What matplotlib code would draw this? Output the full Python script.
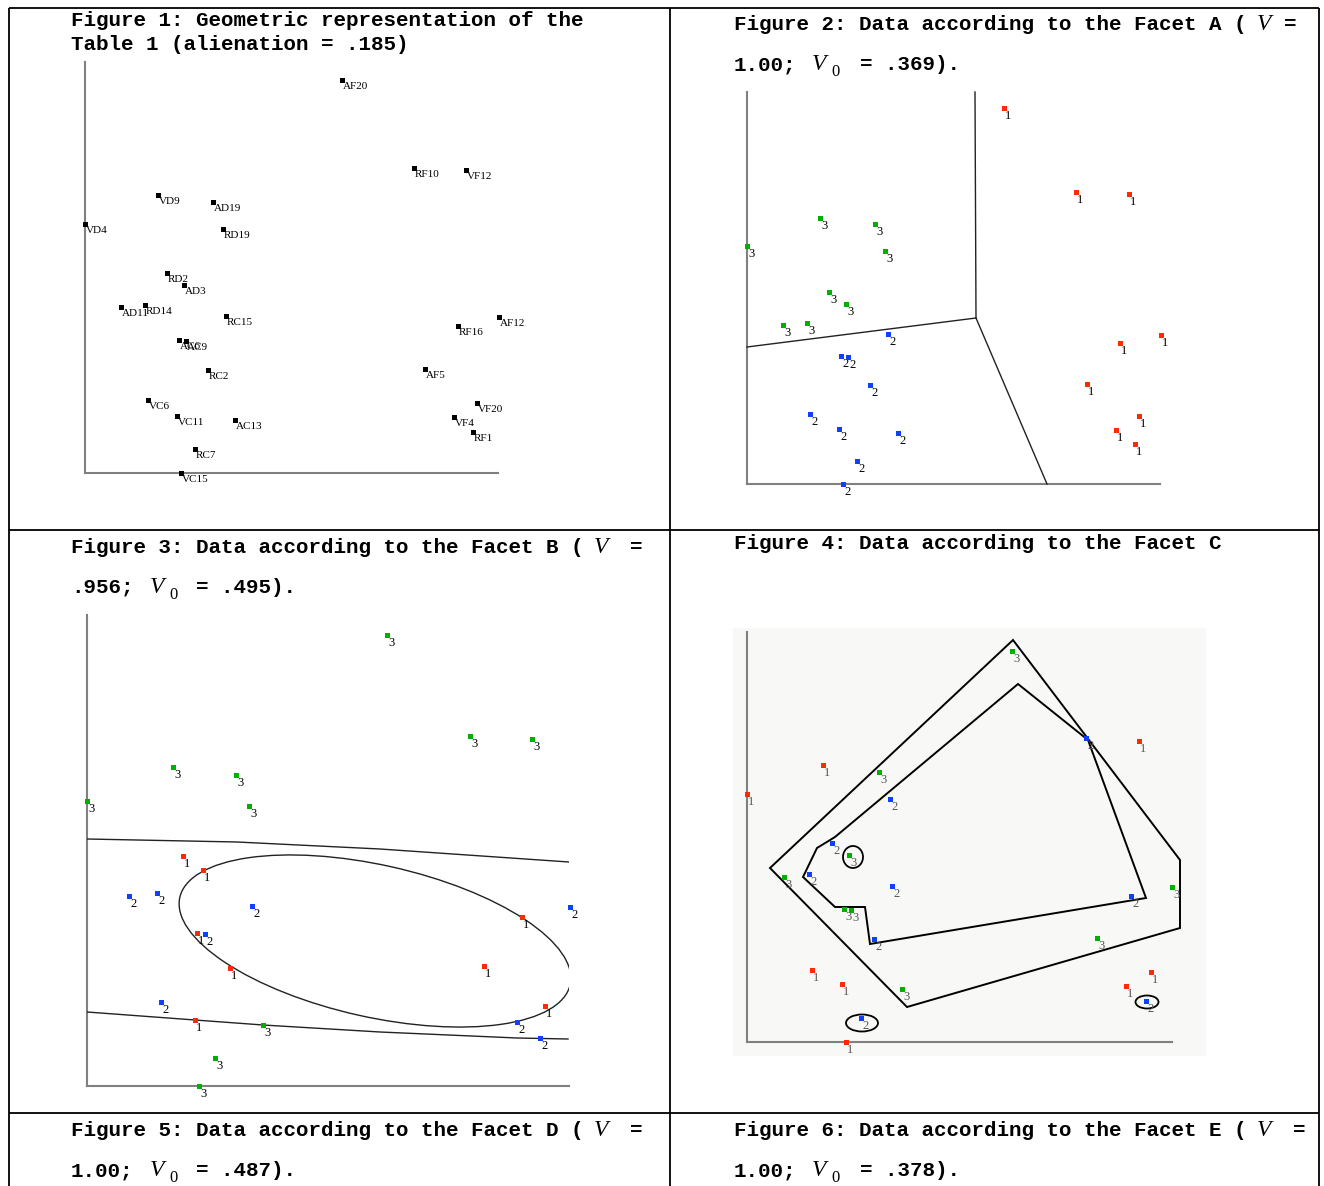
import matplotlib
matplotlib.use('Agg')
import matplotlib.pyplot as plt
from matplotlib.patches import Ellipse, Polygon, Rectangle

W, H = 1324, 1186

# Figure 1: SSA map with item labels (x to the right, y upward from the axis corner)
fig1_labels = ['AF20', 'RF10', 'VF12', 'VD9', 'AD19', 'VD4', 'RD19', 'RD2', 'AD3',
               'AD11', 'RD14', 'RC15', 'AF12', 'RF16', 'AC6', 'AC9', 'RC2', 'AF5',
               'VC6', 'VF20', 'VC11', 'VF4', 'AC13', 'RF1', 'RC7', 'VC15']
fig1_x = [257, 329, 381, 73, 128, 0, 138, 82, 99, 36, 60, 141, 414, 373, 94, 101,
          123, 340, 63, 392, 92, 369, 150, 388, 110, 96]
fig1_y = [393, 305, 303, 278, 271, 249, 244, 200, 188, 166, 168, 157, 156, 147, 133,
          132, 103, 104, 73, 70, 57, 56, 53, 41, 24, 0]

# Figure 2: Facet A
fig2_red_x = [257, 329, 382, 373, 414, 340, 392, 369, 388]
fig2_red_y = [376, 292, 290, 141, 149, 100, 68, 54, 40]
fig2_blue_x = [141, 94, 101, 123, 63, 92, 151, 110, 96]
fig2_blue_y = [150, 128, 127, 99, 70, 55, 51, 23, 0]
fig2_green_x = [73, 128, 0, 138, 82, 99, 36, 60]
fig2_green_y = [266, 260, 238, 233, 192, 180, 159, 161]
fig2_walls = [([228, 229], [392, 166]), ([0, 229], [137, 166]), ([229, 300], [166, 0])]

# Figure 3: Facet B
fig3_red_x = [96, 116, 435, 110, 143, 397, 458, 108]
fig3_red_y = [230, 216, 169, 153, 118, 120, 80, 66]
fig3_blue_x = [42, 70, 165, 483, 118, 74, 430, 453]
fig3_blue_y = [190, 193, 180, 179, 152, 84, 64, 48]
fig3_green_x = [300, 383, 445, 86, 149, 0, 162, 176, 128, 112]
fig3_green_y = [451, 350, 347, 319, 311, 285, 280, 61, 28, 0]
fig3_upper_x = [0, 150, 293, 482]
fig3_upper_y = [247, 244, 237, 224]
fig3_lower_x = [0, 108, 176, 293, 430, 481]
fig3_lower_y = [74, 66, 61, 54, 48, 47]
fig3_ellipse = dict(xy=(288, 145), width=400, height=152, angle=-12.6)

# Figure 4: Facet C
fig4_red_x = [392, 76, 0, 65, 404, 95, 379, 99]
fig4_red_y = [301, 277, 248, 72, 70, 58, 56, 0]
fig4_blue_x = [339, 143, 85, 62, 145, 384, 127, 399, 114]
fig4_blue_y = [304, 243, 199, 168, 156, 146, 103, 41, 24]
fig4_green_x = [265, 132, 102, 37, 425, 97, 104, 350, 155]
fig4_green_y = [391, 270, 187, 165, 155, 133, 132, 104, 53]
fig4_outer = [(266, 402), (433, 182), (433, 114), (160, 35), (23, 174)]
fig4_inner = [(271, 358), (341, 302), (399, 144), (123, 98), (118, 135), (88, 135),
              (56, 165), (70, 194), (88, 205)]
fig4_rings = [((106, 185), 20, 22), ((115, 19), 32, 17), ((400, 40), 23, 13)]

RED, BLUE, GREEN = '#ff2a00', '#1040ff', '#00b000'
MONO = dict(family='Liberation Mono', weight='bold', fontsize=15, va='baseline')

fig = plt.figure(figsize=(W / 100, H / 100), dpi=100)
page = fig.add_axes([0, 0, 1, 1])
page.set_xlim(0, W)
page.set_ylim(H, 0)
page.axis('off')

# table grid
for xs, ys in [([9, 9], [8, H]), ([1319, 1319], [8, H]), ([670, 670], [8, H]),
               ([9, 1319], [8, 8]), ([9, 1319], [530, 530]), ([9, 1319], [1113, 1113])]:
    page.plot(xs, ys, color='black', lw=1.3, solid_capstyle='butt')


def vee(x, y, sub=False):
    page.text(x, y, 'V', family='Liberation Serif', style='italic', fontsize=17, va='baseline')
    if sub:
        page.text(x + 19, y + 6, '0', family='Liberation Serif', fontsize=12, va='baseline')


page.text(71, 26, 'Figure 1: Geometric representation of the', **MONO)
page.text(71, 50, 'Table 1 (alienation = .185)', **MONO)

page.text(734, 30, 'Figure 2: Data according to the Facet A (', **MONO)
vee(1257, 30)
page.text(1284, 30, '=', **MONO)
page.text(734, 70, '1.00;', **MONO)
vee(812, 70, True)
page.text(860, 70, '= .369).', **MONO)

page.text(71, 553, 'Figure 3: Data according to the Facet B (', **MONO)
vee(594, 553)
page.text(630, 553, '=', **MONO)
page.text(71, 593, '.956;', **MONO)
vee(150, 593, True)
page.text(196, 593, '= .495).', **MONO)

page.text(734, 549, 'Figure 4: Data according to the Facet C', **MONO)

page.text(71, 1136, 'Figure 5: Data according to the Facet D (', **MONO)
vee(594, 1136)
page.text(630, 1136, '=', **MONO)
page.text(71, 1176, '1.00;', **MONO)
vee(150, 1176, True)
page.text(196, 1176, '= .487).', **MONO)

page.text(734, 1136, 'Figure 6: Data according to the Facet E (', **MONO)
vee(1257, 1136)
page.text(1293, 1136, '=', **MONO)
page.text(734, 1176, '1.00;', **MONO)
vee(812, 1176, True)
page.text(860, 1176, '= .378).', **MONO)


def panel(x0, y0, w, h):
    ax = fig.add_axes([x0 / W, 1 - y0 / H, w / W, h / H])
    ax.set_xlim(0, w)
    ax.set_ylim(0, h)
    ax.axis('off')
    ax.plot([0, 0], [0, h], color='#808080', lw=1.5, clip_on=False, zorder=2)
    ax.plot([0, w], [0, 0], color='#808080', lw=1.5, clip_on=False, zorder=2)
    return ax


def marks(ax, xs, ys, labels, color, size=9, tcolor='black'):
    ax.plot(xs, ys, 's', ls='none', ms=3.6, mew=0, color=color, clip_on=False, zorder=4)
    for x, y, t in zip(xs, ys, labels):
        ax.annotate(t, (x, y), xytext=(1, -2), textcoords='offset pixels',
                    ha='left', va='top', fontsize=size, family='Liberation Serif',
                    color=tcolor, annotation_clip=False)


# Figure 1
ax1 = panel(85, 473, 413, 411)
marks(ax1, fig1_x, fig1_y, fig1_labels, 'black', size=8)

# Figure 2
ax2 = panel(747, 484, 413, 392)
for xs, ys in fig2_walls:
    ax2.plot(xs, ys, color='#222222', lw=1.0, clip_on=False)
marks(ax2, fig2_red_x, fig2_red_y, ['1'] * len(fig2_red_x), RED)
marks(ax2, fig2_blue_x, fig2_blue_y, ['2'] * len(fig2_blue_x), BLUE)
marks(ax2, fig2_green_x, fig2_green_y, ['3'] * len(fig2_green_x), GREEN)

# Figure 3
ax3 = panel(87, 1086, 482, 471)
ax3.plot(fig3_upper_x, fig3_upper_y, color='#222222', lw=1.0)
ax3.plot(fig3_lower_x, fig3_lower_y, color='#222222', lw=1.0)
ax3.add_patch(Ellipse(fill=False, ec='#222222', lw=1.0, **fig3_ellipse))
marks(ax3, fig3_red_x, fig3_red_y, ['1'] * len(fig3_red_x), RED)
marks(ax3, fig3_blue_x, fig3_blue_y, ['2'] * len(fig3_blue_x), BLUE)
marks(ax3, fig3_green_x, fig3_green_y, ['3'] * len(fig3_green_x), GREEN)

# Figure 4
ax4 = panel(747, 1042, 425, 410)
ax4.add_patch(Rectangle((-14, -13), 472, 427, color='#f8f8f6', zorder=0, clip_on=False))
ax4.add_patch(Polygon(fig4_outer, closed=True, fill=False, ec='black', lw=1.4, clip_on=False))
ax4.add_patch(Polygon(fig4_inner, closed=True, fill=False, ec='black', lw=1.4, clip_on=False))
for c, w, h in fig4_rings:
    ax4.add_patch(Ellipse(c, w, h, fill=False, ec='black', lw=1.3, clip_on=False))
marks(ax4, fig4_red_x, fig4_red_y, ['1'] * len(fig4_red_x), RED, tcolor='#555555')
marks(ax4, fig4_blue_x, fig4_blue_y, ['2'] * len(fig4_blue_x), BLUE, tcolor='#555555')
marks(ax4, fig4_green_x, fig4_green_y, ['3'] * len(fig4_green_x), GREEN, tcolor='#555555')

fig.savefig('out.png', dpi=100)
